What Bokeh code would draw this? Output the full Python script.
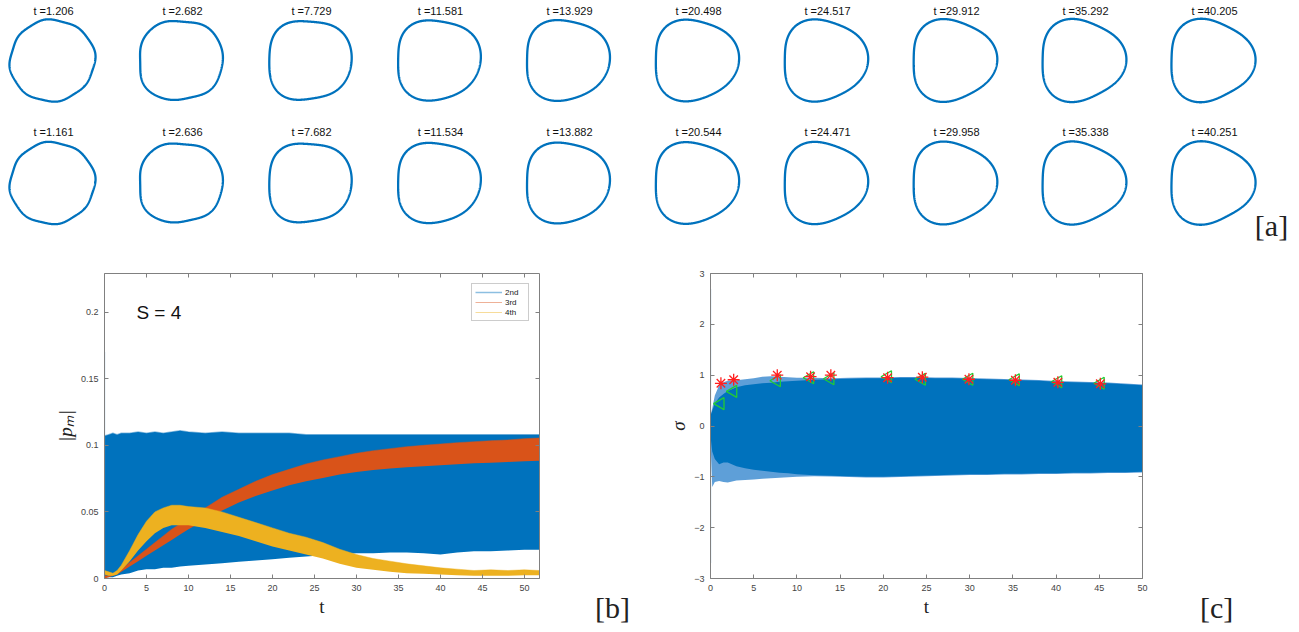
import numpy as np
from bokeh.plotting import figure
from bokeh.layouts import column, row
from bokeh.models import (Range1d, LinearAxis, FixedTicker, Label, Legend, LegendItem,
                          CustomLabelingPolicy, Div)
from bokeh.core.properties import value
from bokeh.embed import file_html
from bokeh.resources import INLINE

# ---------------- panel [a]: interface snapshots ----------------
times_top = [1.206, 2.682, 7.729, 11.581, 13.929, 20.498, 24.517, 29.912, 35.292, 40.205]
times_bottom = [1.161, 2.636, 7.682, 11.534, 13.882, 20.544, 24.471, 29.958, 35.338, 40.251]

# boundary of each snapshot: r(theta) = 1 + sum_m a_m cos(m (theta - phi_m))
mode2_amp = [0.015, 0.020, 0.022, 0.020, 0.018, 0.015, 0.012, 0.010, 0.010, 0.010]
mode2_phase = [0.5, 0.3, 0.4, 0.5, 0.5, 0.5, 0.5, 0.5, 0.5, 0.5]
mode3_amp = [0.008, 0.020, 0.035, 0.050, 0.056, 0.065, 0.070, 0.076, 0.080, 0.084]
mode3_phase = [0.0, 0.0, 0.05, 0.08, 0.06, 0.04, 0.03, 0.02, 0.01, 0.0]
mode4_amp = [0.010, 0.032, 0.038, 0.028, 0.024, 0.018, 0.014, 0.010, 0.008, 0.005]
mode4_phase = [0.3, 0.785, 0.785, 0.75, 0.75, 0.75, 0.75, 0.75, 0.75, 0.75]
ripple_amp = [0.014, 0.010, 0.003, 0.0, 0.0, 0.0, 0.0, 0.0, 0.0, 0.0]
ripple_mode = [8, 7, 6, 6, 6, 6, 6, 6, 6, 6]
ripple_phase = [0.15, 0.1, 0.0, 0.0, 0.0, 0.0, 0.0, 0.0, 0.0, 0.0]

# ---------------- panel [b]: mode amplitudes |p_m| ----------------
t_b = [0, 0.5, 1, 1.5, 2, 3, 4, 5, 6, 7, 8, 9, 10, 12, 14, 16, 18, 20, 22, 24,
       26, 28, 30, 32, 34, 36, 38, 40, 42, 44, 46, 48, 50, 51.8]
p2_low = [0.001, 0.001, 0.001, 0.002, 0.003, 0.004, 0.006, 0.007, 0.007, 0.008, 0.008, 0.009,
          0.0095, 0.0105, 0.0115, 0.0125, 0.0135, 0.0145, 0.0155, 0.0165, 0.0175, 0.018, 0.019,
          0.019, 0.0195, 0.0195, 0.019, 0.018, 0.0195, 0.0205, 0.0205, 0.021, 0.0215, 0.0215]
p2_high = [0.107, 0.108, 0.109, 0.108, 0.109, 0.109, 0.110, 0.109, 0.110, 0.109, 0.110, 0.111,
           0.110, 0.109, 0.110, 0.109, 0.109, 0.109, 0.109, 0.108, 0.108, 0.108, 0.108, 0.108,
           0.108, 0.108, 0.108, 0.108, 0.108, 0.108, 0.108, 0.108, 0.108, 0.108]
p3_low = [0.000, 0.001, 0.002, 0.003, 0.005, 0.009, 0.013, 0.017, 0.021, 0.025, 0.029, 0.033,
          0.037, 0.044, 0.051, 0.057, 0.062, 0.066, 0.070, 0.073, 0.0755, 0.078, 0.080, 0.0815,
          0.0825, 0.0835, 0.0843, 0.085, 0.0857, 0.0865, 0.087, 0.0875, 0.088, 0.0885]
p3_high = [0.002, 0.002, 0.003, 0.005, 0.007, 0.012, 0.017, 0.022, 0.027, 0.032, 0.037, 0.041,
           0.045, 0.053, 0.061, 0.067, 0.073, 0.078, 0.082, 0.086, 0.089, 0.0915, 0.094, 0.096,
           0.0975, 0.099, 0.100, 0.101, 0.102, 0.1027, 0.1035, 0.104, 0.105, 0.1055]
p4_low = [0.003, 0.002, 0.002, 0.003, 0.006, 0.013, 0.021, 0.028, 0.034, 0.038, 0.040, 0.040,
          0.040, 0.038, 0.035, 0.032, 0.028, 0.024, 0.021, 0.018, 0.015, 0.011, 0.008, 0.0065,
          0.005, 0.004, 0.0035, 0.003, 0.0025, 0.002, 0.002, 0.002, 0.0025, 0.0025]
p4_high = [0.006, 0.005, 0.004, 0.006, 0.010, 0.021, 0.033, 0.043, 0.050, 0.053, 0.055, 0.055,
           0.054, 0.053, 0.050, 0.046, 0.042, 0.038, 0.034, 0.031, 0.027, 0.022, 0.018, 0.015,
           0.013, 0.011, 0.0095, 0.008, 0.007, 0.006, 0.0065, 0.006, 0.0065, 0.006]
p2_initial = 0.17

# ---------------- panel [c]: growth rate sigma ----------------
t_c = [0, 0.2, 0.5, 1, 1.5, 2, 3, 4, 5, 6, 7, 8, 9, 10, 12, 14, 16, 18, 20, 22, 24,
       26, 28, 30, 32, 34, 36, 38, 40, 42, 44, 46, 48, 50]
sig_high = [0.2, 0.3, 0.45, 0.56, 0.63, 0.69, 0.76, 0.80, 0.82, 0.84, 0.85, 0.87, 0.88, 0.89,
            0.91, 0.92, 0.93, 0.94, 0.94, 0.95, 0.95, 0.94, 0.94, 0.93, 0.92, 0.91, 0.90, 0.89,
            0.87, 0.86, 0.85, 0.84, 0.82, 0.80]
sig_low = [-0.2, -0.5, -0.65, -0.75, -0.72, -0.72, -0.79, -0.83, -0.86, -0.88, -0.90, -0.92,
           -0.93, -0.95, -0.97, -0.98, -0.99, -1.00, -1.00, -0.99, -0.98, -0.97, -0.96, -0.95,
           -0.95, -0.94, -0.94, -0.93, -0.93, -0.92, -0.92, -0.91, -0.91, -0.90]
sig_env_high = [0.2, 0.35, 0.6, 0.8, 0.86, 0.89, 0.90, 0.92, 0.94, 0.97, 0.98, 0.97, 0.96, 0.95,
                0.95, 0.94, 0.95, 0.955, 0.955, 0.965, 0.965, 0.955, 0.955, 0.945, 0.935, 0.925,
                0.915, 0.905, 0.885, 0.875, 0.865, 0.855, 0.835, 0.815]
sig_env_low = [-0.3, -1.2, -1.1, -1.08, -1.10, -1.11, -1.07, -1.06, -1.05, -1.04, -1.03, -1.02,
               -1.01, -1.00, -0.99, -0.995, -1.005, -1.015, -1.015, -1.005, -0.995, -0.985,
               -0.975, -0.965, -0.965, -0.955, -0.955, -0.945, -0.945, -0.935, -0.935, -0.925,
               -0.925, -0.915]
sig_initial = [-2.7, 2.7]

mark_t_star = [1.206, 2.682, 7.729, 11.581, 13.929, 20.498, 24.517, 29.912, 35.292, 40.205, 45.118]
mark_sig_star = [0.84, 0.91, 1.00, 0.97, 1.00, 0.95, 0.96, 0.92, 0.90, 0.86, 0.83]
mark_t_tri = [1.161, 2.636, 7.682, 11.534, 13.882, 20.544, 24.471, 29.958, 35.338, 40.251, 45.164]
mark_sig_tri = [0.44, 0.68, 0.89, 0.95, 0.93, 0.97, 0.92, 0.92, 0.91, 0.87, 0.84]

BLUE = "#0072BD"
ORANGE = "#D95319"
YELLOW = "#EDB120"
LIGHT_BLUE = "#5E9FD8"
AXIS_GREY = "#808080"
TICK_TEXT = "#444444"
SANS = "Liberation Sans"
SERIF = "Liberation Serif"
ROW_H = 387


def panel_tag(width, left, top, tag):
    html = (f'<div style="position:relative;width:{width}px;height:{ROW_H}px;">'
            f'<span style="position:absolute;left:{left}px;top:{top}px;'
            f"font-family:'{SERIF}';font-size:30px;line-height:36px;color:#222222;\">"
            f'{tag}</span></div>')
    return Div(text=html, width=width, height=ROW_H, margin=0)


# ---------------- panel [a] drawing ----------------
pa = figure(width=1299, height=245, x_range=Range1d(0, 1299), y_range=Range1d(245, 0),
            output_backend="svg", toolbar_location=None, min_border=0)
pa.axis.visible = False
pa.grid.visible = False
pa.outline_line_color = None

theta = np.linspace(0, 2 * np.pi, 721)
col_x = [53 + 129 * i for i in range(10)]
RX, RY = 42.0, 41.0
xs, ys = [], []
for cy in (60.0, 182.5):
    for i in range(10):
        r = (1 + mode2_amp[i] * np.cos(2 * (theta - mode2_phase[i]))
               + mode3_amp[i] * np.cos(3 * (theta - mode3_phase[i]))
               + mode4_amp[i] * np.cos(4 * (theta - mode4_phase[i]))
               + ripple_amp[i] * np.cos(ripple_mode[i] * (theta - ripple_phase[i])))
        x = r * np.cos(theta)
        y = r * np.sin(theta)
        x = x - (x.max() + x.min()) / 2
        y = y - (y.max() + y.min()) / 2
        xs.append(col_x[i] - 1 + RX * x)
        ys.append(cy - RY * y)
pa.multi_line(xs, ys, line_color=BLUE, line_width=2.3)

pa.text(x=col_x, y=[10] * 10, text=[f"t ={v:.3f}" for v in times_top],
        text_align="center", text_baseline="middle", text_font=value(SANS),
        text_font_size="11px", text_color="#111111")
pa.text(x=col_x, y=[131] * 10, text=[f"t ={v:.3f}" for v in times_bottom],
        text_align="center", text_baseline="middle", text_font=value(SANS),
        text_font_size="11px", text_color="#111111")
pa.text(x=[1271], y=[225], text=["[a]"], text_align="center", text_baseline="middle",
        text_font=value(SERIF), text_font_size="30px", text_color="#222222")

no_labels = CustomLabelingPolicy(code="return new Set()")


def style_axes(p, xticks, yticks, overrides=None):
    p.grid.visible = False
    p.outline_line_color = None
    p.xaxis.ticker = FixedTicker(ticks=xticks)
    p.yaxis.ticker = FixedTicker(ticks=yticks)
    if overrides:
        p.yaxis.major_label_overrides = overrides
    top = LinearAxis(ticker=FixedTicker(ticks=xticks), major_label_policy=no_labels)
    right = LinearAxis(ticker=FixedTicker(ticks=yticks), major_label_policy=no_labels)
    p.add_layout(top, "above")
    p.add_layout(right, "right")
    for ax in p.axis:
        ax.axis_line_color = AXIS_GREY
        ax.major_tick_line_color = AXIS_GREY
        ax.major_tick_in = 4
        ax.major_tick_out = 0
        ax.minor_tick_line_color = None
        ax.major_label_text_font = SANS
        ax.major_label_text_font_size = "9px"
        ax.major_label_text_color = TICK_TEXT
        ax.major_label_standoff = 6
    for ax in (top, right):
        ax.major_label_standoff = 0


def style_labels(p, ylabel_style):
    for ax, style in ((p.below[0], "normal"), (p.left[0], ylabel_style)):
        ax.axis_label_text_font = SERIF
        ax.axis_label_text_font_size = "19px"
        ax.axis_label_text_font_style = style
        ax.axis_label_text_color = "#222222"
        ax.axis_label_standoff = 2


# ---------------- panel [b] drawing ----------------
pb = figure(width=560, height=ROW_H, x_range=Range1d(0, 51.8), y_range=Range1d(0, 0.229),
            output_backend="svg", toolbar_location=None,
            min_border_left=104, min_border_right=19, min_border_top=28, min_border_bottom=54)
style_axes(pb, list(range(0, 51, 5)), [0, 0.05, 0.1, 0.15, 0.2],
           {0: "0", 0.05: "0.05", 0.1: "0.1", 0.15: "0.15", 0.2: "0.2"})

pb.varea(x=t_b, y1=p2_low, y2=p2_high, fill_color=BLUE)
pb.segment(x0=[0], y0=[0], x1=[0], y1=[p2_initial], line_color=LIGHT_BLUE, line_width=1.2)
edge2 = pb.line(t_b, p2_high, line_color=BLUE, line_alpha=0.45, line_width=1.5)
pb.varea(x=t_b, y1=p3_low, y2=p3_high, fill_color=ORANGE)
edge3 = pb.line(t_b, p3_high, line_color=ORANGE, line_alpha=0.45, line_width=1)
pb.varea(x=t_b, y1=p4_low, y2=p4_high, fill_color=YELLOW)
edge4 = pb.line(t_b, p4_high, line_color=YELLOW, line_alpha=0.45, line_width=1)

legend = Legend(items=[LegendItem(label="2nd", renderers=[edge2]),
                       LegendItem(label="3rd", renderers=[edge3]),
                       LegendItem(label="4th", renderers=[edge4])],
                location="top_right", margin=10, padding=3, spacing=0,
                label_text_font=SANS, label_text_font_size="8px", label_text_color="#222222",
                label_height=10, glyph_height=10, glyph_width=27, label_standoff=3,
                border_line_color="#999999", border_line_width=1)
pb.add_layout(legend)

pb.below[0].axis_label = "t"
pb.left[0].axis_label = "|pₘ|"
style_labels(pb, "italic")

pb.add_layout(Label(x=3.8, y=0.2, text="S = 4", text_font=SANS, text_font_size="19px",
                    text_color="#111111", text_baseline="alphabetic"))

tag_b = panel_tag(90, 35, 345, "[b]")

# ---------------- panel [c] drawing ----------------
pc = figure(width=510, height=ROW_H, x_range=Range1d(0, 50), y_range=Range1d(-3, 3),
            output_backend="svg", toolbar_location=None,
            min_border_left=60, min_border_right=18, min_border_top=28, min_border_bottom=54)
style_axes(pc, list(range(0, 51, 5)), [-3, -2, -1, 0, 1, 2, 3])

pc.segment(x0=[0], y0=[sig_initial[0]], x1=[0], y1=[sig_initial[1]],
           line_color=LIGHT_BLUE, line_width=1.2)
pc.varea(x=t_c, y1=sig_env_low, y2=sig_env_high, fill_color=LIGHT_BLUE)
pc.varea(x=t_c, y1=sig_low, y2=sig_high, fill_color=BLUE)
pc.scatter(mark_t_tri, mark_sig_tri, marker="triangle", size=12, angle=np.pi / 2,
           fill_color=None, line_color="#22CC33", line_width=1.3)
pc.scatter(mark_t_star, mark_sig_star, marker="asterisk", size=12,
           line_color="#FF2020", line_width=1.3)
pc.scatter(mark_t_star, mark_sig_star, marker="circle", size=3,
           fill_color="#FF2020", line_color=None)

pc.below[0].axis_label = "t"
pc.left[0].axis_label = "σ"
style_labels(pc, "italic")

tag_c = panel_tag(139, 40, 345, "[c]")

layout = column(pa, row(pb, tag_b, pc, tag_c, spacing=0), spacing=0)
open("out.html", "w").write(file_html(layout, INLINE))
